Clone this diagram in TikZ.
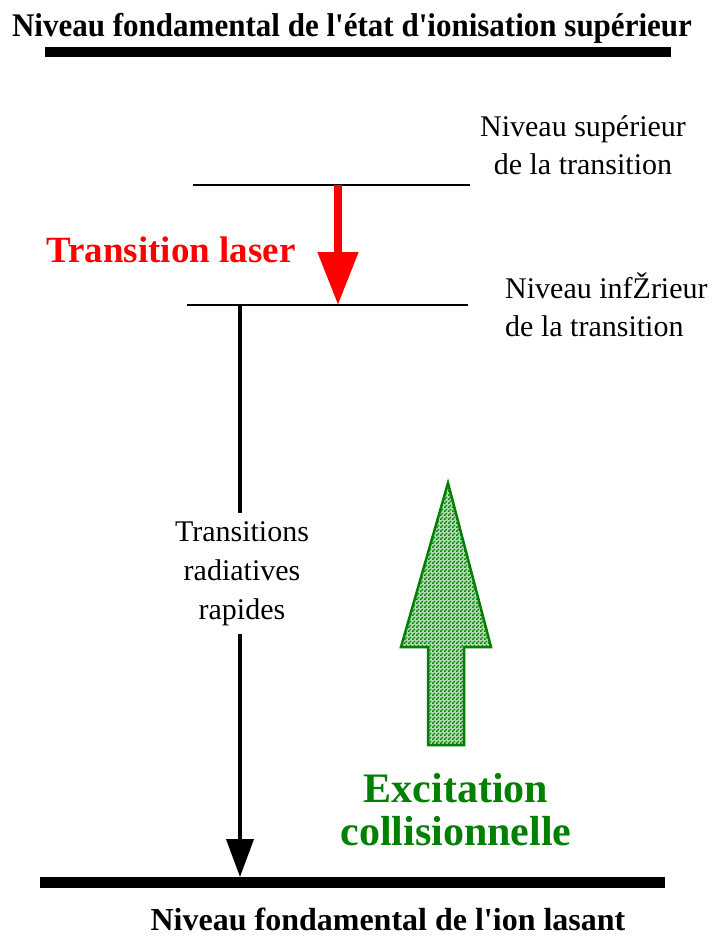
\documentclass[tikz,border=0pt]{standalone}
\usepackage{fontspec}
\setmainfont{Liberation Serif}
\usetikzlibrary{arrows.meta,patterns}
\definecolor{laserred}{RGB}{255,0,0}
\definecolor{collgreen}{RGB}{0,128,0}
\pgfdeclarepatternformonly{checker}{\pgfpointorigin}{\pgfpoint{4pt}{4pt}}{\pgfpoint{4pt}{4pt}}{%
  \pgfpathrectangle{\pgfpointorigin}{\pgfpoint{2pt}{2pt}}%
  \pgfpathrectangle{\pgfpoint{2pt}{2pt}}{\pgfpoint{2pt}{2pt}}%
  \pgfusepath{fill}}
\begin{document}
\begin{tikzpicture}[x=1pt,y=-1pt,
    level/.style={line width=2pt},
    ground/.style={line width=10pt},
    plain/.style={font=\fontsize{30}{38}\selectfont},
    heavy/.style={font=\bfseries\fontsize{33}{38}\selectfont}]
  \useasboundingbox (0,0) rectangle (719,936);
  % titles of the two ground levels
  \node[heavy,anchor=base,inner sep=0] (top) at (352,37)
    {\scalebox{0.94}[1]{Niveau fondamental de l\textquotesingle état d\textquotesingle ionisation supérieur}};
  \node[heavy,anchor=base,inner sep=0,font=\bfseries\fontsize{32}{38}\selectfont] (bot) at (388,930)
    {Niveau fondamental de l\textquotesingle ion lasant};
  \draw[ground] (45,52) -- (671,52);
  \draw[ground,line width=11pt] (40,882) coordinate (gl) -- (665,882) coordinate (gr);
  % levels of the laser transition
  \coordinate (ul) at (193,185);
  \coordinate (ur) at (470,185);
  \coordinate (ll) at (187,305);
  \coordinate (lr) at (468,305);
  \draw[level] (ul) -- (ur);
  \draw[level] (ll) -- (lr);
  \node[plain,anchor=base,align=center,inner sep=0] (sup) at (583,175)
    {Niveau supérieur\\de la transition};
  \node[plain,anchor=base west,align=left,inner sep=0] (inf) at (505,336)
    {Niveau infŽrieur\\de la transition};
  % laser transition
  \node[font=\bfseries\fontsize{37}{40}\selectfont,text=laserred,anchor=base,inner sep=0] (laser) at (171,262)
    {Transition laser};
  \coordinate (la) at (338,185);
  \coordinate (lb) at (338,305);
  \draw[laserred,line width=8pt,-{Triangle[length=53pt,width=39pt]}] (la) -- (lb);
  % radiative decay
  \node[plain,font=\fontsize{30}{39}\selectfont,align=center,inner sep=8pt,anchor=north] (rad) at (242,513)
    {Transitions\\radiatives\\rapides};
  \coordinate (rtop) at (240,305);
  \coordinate (rbot) at (240,877);
  \draw[line width=4pt] (rtop) -- (rtop |- rad.north);
  \draw[line width=4pt,-{Triangle[length=38pt,width=27pt]}] (rtop |- rad.south) -- (rbot);
  % collisional excitation
  \draw[collgreen,line width=2.5pt,preaction={fill=collgreen!30},pattern=checker,pattern color=collgreen]
    (428,745) -- (428,647) -- (401,647) -- (448,483) -- (491,647) -- (464,647) -- (464,745) -- cycle;
  \node[font=\bfseries\fontsize{42}{43}\selectfont,text=collgreen,align=center,anchor=base,inner sep=0] (coll) at (456,845)
    {Excitation\\collisionnelle};
\end{tikzpicture}
\end{document}
